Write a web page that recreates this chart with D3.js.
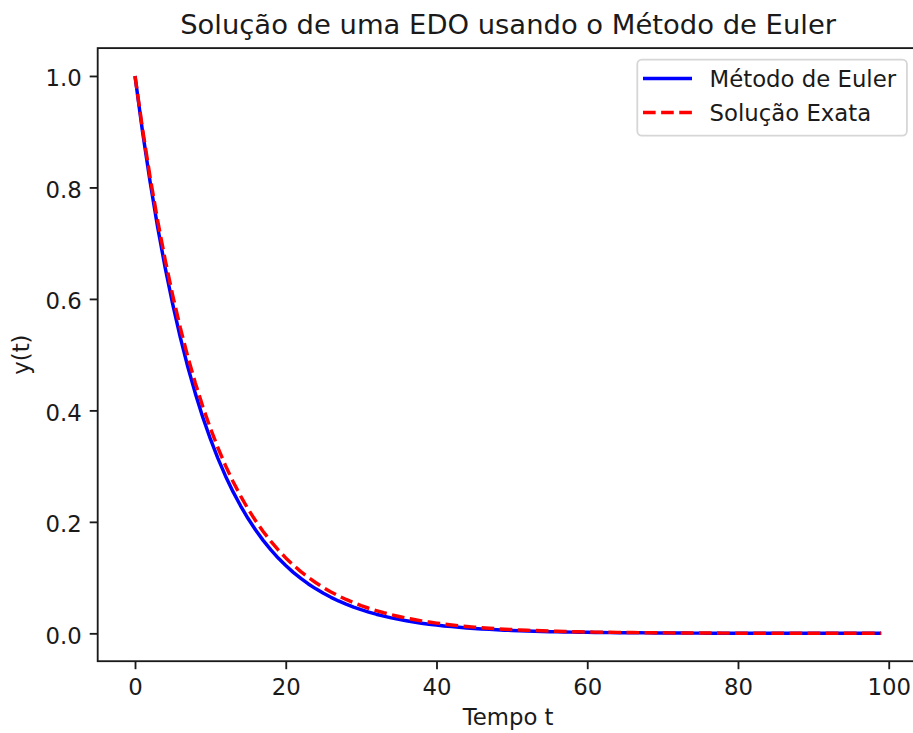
<!DOCTYPE html>
<html>
<head>
<meta charset="utf-8">
<script src="https://cdn.jsdelivr.net/npm/d3@7"></script>
<style>
  html, body { margin: 0; padding: 0; background: #fff; }
  svg { display: block; font-family: "DejaVu Sans", sans-serif; }
</style>
</head>
<body>
<svg id="chart" width="913" height="733"></svg>
<script>
// Time steps (dt = 1)
const tempo = [
  0, 1, 2, 3, 4, 5, 6, 7, 8, 9, 10, 11, 12, 13, 14, 15, 16, 17, 18, 19,
  20, 21, 22, 23, 24, 25, 26, 27, 28, 29, 30, 31, 32, 33, 34, 35, 36, 37, 38, 39,
  40, 41, 42, 43, 44, 45, 46, 47, 48, 49, 50, 51, 52, 53, 54, 55, 56, 57, 58, 59,
  60, 61, 62, 63, 64, 65, 66, 67, 68, 69, 70, 71, 72, 73, 74, 75, 76, 77, 78, 79,
  80, 81, 82, 83, 84, 85, 86, 87, 88, 89, 90, 91, 92, 93, 94, 95, 96, 97, 98, 99
];

// Euler approximation of y(t)
const yEuler = [
  1.0000, 0.9000, 0.8100, 0.7290, 0.6561, 0.5905, 0.5314, 0.4783, 0.4305, 0.3874,
  0.3487, 0.3138, 0.2824, 0.2542, 0.2288, 0.2059, 0.1853, 0.1668, 0.1501, 0.1351,
  0.1216, 0.1094, 0.0985, 0.0886, 0.0798, 0.0718, 0.0646, 0.0581, 0.0523, 0.0471,
  0.0424, 0.0382, 0.0343, 0.0309, 0.0278, 0.0250, 0.0225, 0.0203, 0.0182, 0.0164,
  0.0148, 0.0133, 0.0120, 0.0108, 0.0097, 0.0087, 0.0079, 0.0071, 0.0064, 0.0057,
  0.0052, 0.0046, 0.0042, 0.0038, 0.0034, 0.0030, 0.0027, 0.0025, 0.0022, 0.0020,
  0.0018, 0.0016, 0.0015, 0.0013, 0.0012, 0.0011, 0.0010, 0.0009, 0.0008, 0.0007,
  0.0006, 0.0006, 0.0005, 0.0005, 0.0004, 0.0004, 0.0003, 0.0003, 0.0003, 0.0002,
  0.0002, 0.0002, 0.0002, 0.0002, 0.0001, 0.0001, 0.0001, 0.0001, 0.0001, 0.0001,
  0.0001, 0.0001, 0.0001, 0.0001, 0.0001, 0.0000, 0.0000, 0.0000, 0.0000, 0.0000
];

// Exact solution y(t)
const yExata = [
  1.0000, 0.9048, 0.8187, 0.7408, 0.6703, 0.6065, 0.5488, 0.4966, 0.4493, 0.4066,
  0.3679, 0.3329, 0.3012, 0.2725, 0.2466, 0.2231, 0.2019, 0.1827, 0.1653, 0.1496,
  0.1353, 0.1225, 0.1108, 0.1003, 0.0907, 0.0821, 0.0743, 0.0672, 0.0608, 0.0550,
  0.0498, 0.0450, 0.0408, 0.0369, 0.0334, 0.0302, 0.0273, 0.0247, 0.0224, 0.0202,
  0.0183, 0.0166, 0.0150, 0.0136, 0.0123, 0.0111, 0.0101, 0.0091, 0.0082, 0.0074,
  0.0067, 0.0061, 0.0055, 0.0050, 0.0045, 0.0041, 0.0037, 0.0033, 0.0030, 0.0027,
  0.0025, 0.0022, 0.0020, 0.0018, 0.0017, 0.0015, 0.0014, 0.0012, 0.0011, 0.0010,
  0.0009, 0.0008, 0.0007, 0.0007, 0.0006, 0.0006, 0.0005, 0.0005, 0.0004, 0.0004,
  0.0003, 0.0003, 0.0003, 0.0002, 0.0002, 0.0002, 0.0002, 0.0002, 0.0002, 0.0001,
  0.0001, 0.0001, 0.0001, 0.0001, 0.0001, 0.0001, 0.0001, 0.0001, 0.0001, 0.0001
];

const xTicks = [0, 20, 40, 60, 80, 100];
const yTicks = [0.0, 0.2, 0.4, 0.6, 0.8, 1.0];
const seriesNames = ["Método de Euler", "Solução Exata"];

const titleText = "Solução de uma EDO usando o Método de Euler";
const xLabelText = "Tempo t";
const yLabelText = "y(t)";

// ---- layout ----
const plot = { left: 97.7, right: 918.5, top: 48.1, bottom: 661.2 };
const fontSize = 22.8;
const titleSize = 27.4;
const spineW = 1.84;
const lineW = 3.45;
const tickLen = 8;
const ink = "#1a1a1a";

const svg = d3.select("#chart");

// matplotlib-style 5% margins around the data range
const xMin = d3.min(tempo), xMax = d3.max(tempo);
const xPad = (xMax - xMin) * 0.05;
const yAll = yEuler.concat(yExata);
const yMin = Math.min(0, d3.min(yAll)), yMax = d3.max(yAll);
const yPad = (yMax - yMin) * 0.05;

const x = d3.scaleLinear().domain([xMin - xPad, xMax + xPad]).range([plot.left, plot.right]);
const y = d3.scaleLinear().domain([yMin - yPad, yMax + yPad]).range([plot.bottom, plot.top]);

// ---- data lines ----
const line = d3.line().x((d, i) => x(tempo[i])).y(d => y(d));

svg.append("path")
  .datum(yEuler)
  .attr("d", line)
  .attr("fill", "none")
  .attr("stroke", "#0000ff")
  .attr("stroke-width", lineW)
  .attr("stroke-linejoin", "round")
  .attr("stroke-linecap", "butt");

svg.append("path")
  .datum(yExata)
  .attr("d", line)
  .attr("fill", "none")
  .attr("stroke", "#ff0000")
  .attr("stroke-width", lineW)
  .attr("stroke-dasharray", "12.65,5.47")
  .attr("stroke-linejoin", "round")
  .attr("stroke-linecap", "butt");

// ---- axes ----
const xAxis = d3.axisBottom(x)
  .tickValues(xTicks)
  .tickFormat(d3.format("d"))
  .tickSize(tickLen)
  .tickPadding(8)
  .tickSizeOuter(0);

const yAxis = d3.axisLeft(y)
  .tickValues(yTicks)
  .tickFormat(d3.format(".1f"))
  .tickSize(tickLen)
  .tickPadding(8)
  .tickSizeOuter(0);

const gx = svg.append("g")
  .attr("transform", `translate(0,${plot.bottom})`)
  .call(xAxis);
gx.select(".domain").remove();
gx.selectAll(".tick line").attr("stroke", ink).attr("stroke-width", spineW);
gx.selectAll(".tick text")
  .attr("fill", ink)
  .attr("font-size", fontSize)
  .attr("font-family", "DejaVu Sans")
  .attr("dy", null)
  .attr("y", 34);

const gy = svg.append("g")
  .attr("transform", `translate(${plot.left},0)`)
  .call(yAxis);
gy.select(".domain").remove();
gy.selectAll(".tick line").attr("stroke", ink).attr("stroke-width", spineW);
gy.selectAll(".tick text")
  .attr("fill", ink)
  .attr("font-size", fontSize)
  .attr("font-family", "DejaVu Sans")
  .attr("x", -16)
  .attr("dy", null)
  .attr("y", 10);

// ---- spines ----
svg.append("rect")
  .attr("x", plot.left)
  .attr("y", plot.top)
  .attr("width", plot.right - plot.left)
  .attr("height", plot.bottom - plot.top)
  .attr("fill", "none")
  .attr("stroke", ink)
  .attr("stroke-width", spineW);

// ---- title and axis labels ----
svg.append("text")
  .attr("x", (plot.left + plot.right) / 2)
  .attr("y", 34)
  .attr("text-anchor", "middle")
  .attr("font-size", titleSize)
  .attr("fill", ink)
  .text(titleText);

svg.append("text")
  .attr("x", (plot.left + plot.right) / 2)
  .attr("y", 725)
  .attr("text-anchor", "middle")
  .attr("font-size", fontSize)
  .attr("fill", ink)
  .text(xLabelText);

svg.append("text")
  .attr("transform", `translate(29,${(plot.top + plot.bottom) / 2}) rotate(-90)`)
  .attr("text-anchor", "middle")
  .attr("font-size", fontSize)
  .attr("fill", ink)
  .text(yLabelText);

// ---- legend ----
const legend = svg.append("g");
const lgBox = { x: 637.3, y: 59.6, w: 269.6, h: 76 };
legend.append("rect")
  .attr("x", lgBox.x)
  .attr("y", lgBox.y)
  .attr("width", lgBox.w)
  .attr("height", lgBox.h)
  .attr("rx", 4.5)
  .attr("fill", "rgba(255,255,255,0.8)")
  .attr("stroke", "#d6d6d6")
  .attr("stroke-width", 1.8);

const legendItems = [
  { name: seriesNames[0], color: "#0000ff", dash: null },
  { name: seriesNames[1], color: "#ff0000", dash: "12.65,5.47" }
];
const rowY = d3.scalePoint().domain(seriesNames).range([78.5, 112.5]);

legendItems.forEach(item => {
  const cy = rowY(item.name);
  legend.append("line")
    .attr("x1", 643)
    .attr("x2", 692)
    .attr("y1", cy)
    .attr("y2", cy)
    .attr("stroke", item.color)
    .attr("stroke-width", lineW)
    .attr("stroke-dasharray", item.dash);
  legend.append("text")
    .attr("x", 709.5)
    .attr("y", cy + 8.5)
    .attr("font-size", fontSize)
    .attr("fill", ink)
    .text(item.name);
});
</script>
</body>
</html>
